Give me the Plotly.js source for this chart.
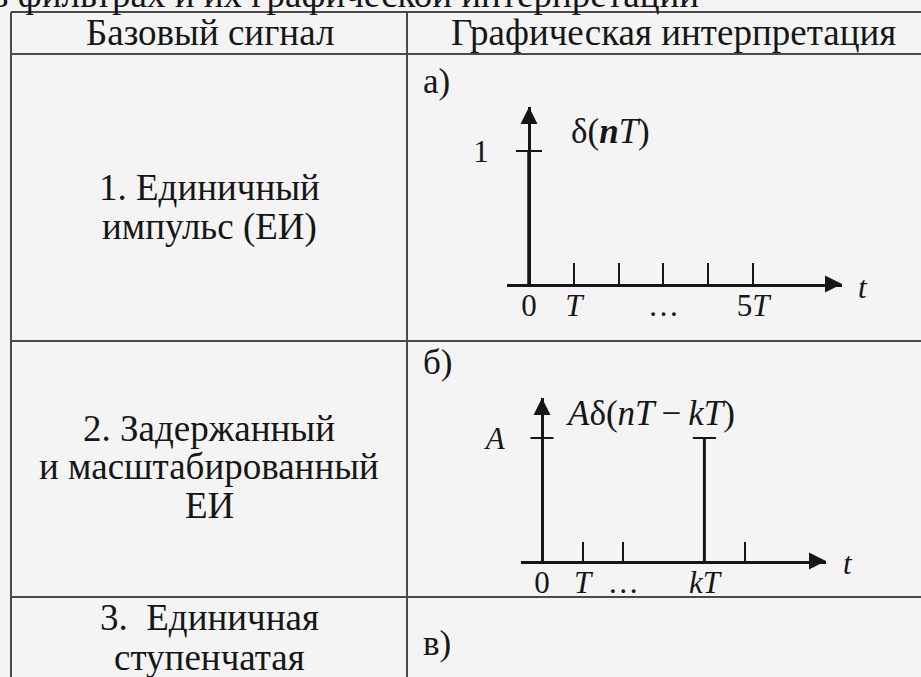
<!DOCTYPE html>
<html><head><meta charset="utf-8">
<script src="https://cdn.plot.ly/plotly-3.0.1.min.js"></script>
<style>
html,body{margin:0;padding:0;background:#f4f4f4;}
#chart{width:921px;height:677px;}
#chart svg text, #chart svg tspan{font-family:'Liberation Serif', serif !important;}
</style>
</head><body><div id="chart"></div>
<script>
// ---------- data ----------
const captionText = 'в фильтрах и их графической интерпретации';
const headerLabels = ['Базовый сигнал', 'Графическая интерпретация'];
const rowLabelLines = [
  ['1. Единичный', 'импульс (ЕИ)'],
  ['2. Задержанный', 'и масштабированный', 'ЕИ'],
  ['3.  Единичная', 'ступенчатая']
];
const panelLetters = ['а)', 'б)', 'в)'];

// panel а: unit impulse δ(nT)
const aSamples = [0, 1, 2, 3, 4, 5];
const aValues = [1, 0, 0, 0, 0, 0];
const aTickText = ['0', '<i>T</i>', '', '…', '', '5<i>T</i>'];
const aYTickVals = [1];
const aYTickText = ['1'];
const aFuncLabel = 'δ(<b><i>n</i></b><i>T</i>)';

// panel б: delayed and scaled impulse Aδ(nT − kT), k = 4
const bSamples = [0, 1, 2, 4, 5];
const bValues = [0, 0, 0, 1, 0];
const bTickText = ['0', '<i>T</i>', '…', '<i>kT</i>', ''];
const bYTickVals = [1];
const bYTickText = ['<i>A</i>'];
const bFuncLabel = '<i>A</i>δ(<i>nT</i>\u2009−\u2009<i>kT</i>)';
const axisVarLabel = '<i>t</i>';

// ---------- geometry / style ----------
const W = 921, H = 677;
const px = x => x / W;
const py = y => 1 - y / H;
const FONT = 'Liberation Serif';
const INK = '#161616';
const GRID = '#4a4a4a';
const TXT = 37, TICK = 31, FUNC = 35;

const panels = [
  {xa: 'x', ya: 'y', samples: aSamples, values: aValues, tickText: aTickText,
   yTickVals: aYTickVals, yTickText: aYTickText, func: aFuncLabel,
   zeroX: 529, step: 44.8, startX: 507, tipX: 842, zeroY: 284, unit: 133, tipY: 107,
   ticklen: 21, capHalf: 13, stemW: 3.5, funcPos: [610, 131], tPos: [863, 287], letterPos: [436, 81], labStand: 33},
  {xa: 'x2', ya: 'y2', samples: bSamples, values: bValues, tickText: bTickText,
   yTickVals: bYTickVals, yTickText: bYTickText, func: bFuncLabel,
   zeroX: 542, step: 40.6, startX: 521, tipX: 826, zeroY: 561, unit: 123, tipY: 398,
   ticklen: 19, capHalf: 11.5, stemW: 3, funcPos: [650, 413], tPos: [848, 563], letterPos: [437, 362], labStand: 30}
];

const traces = [];
const layout = {
  width: W, height: H,
  margin: {l: 0, r: 0, t: 0, b: 0},
  paper_bgcolor: '#f4f4f4', plot_bgcolor: 'rgba(0,0,0,0)',
  showlegend: false,
  shapes: [], annotations: []
};

panels.forEach((p, i) => {
  const sfx = i === 0 ? '' : String(i + 1);
  const xr = [(p.startX - p.zeroX) / p.step, (p.tipX - p.zeroX) / p.step];
  const yr = [0, (p.zeroY - p.tipY) / p.unit];
  layout['xaxis' + sfx] = {
    domain: [px(p.startX), px(p.tipX)], range: xr, anchor: p.ya,
    showline: true, linewidth: 2.5, linecolor: INK,
    showgrid: false, zeroline: false,
    ticks: 'inside', ticklen: p.ticklen, tickwidth: 2, tickcolor: INK,
    tickmode: 'array', tickvals: p.samples, ticktext: p.tickText,
    ticklabelstandoff: -8,
    tickfont: {family: FONT, size: TICK, color: INK}, fixedrange: true
  };
  layout['yaxis' + sfx] = {
    domain: [py(p.zeroY), py(p.tipY)], range: yr, anchor: 'free', position: px(p.zeroX),
    showline: true, linewidth: 2.5, linecolor: INK,
    showgrid: false, zeroline: false, ticks: '',
    tickmode: 'array', tickvals: p.yTickVals, ticktext: p.yTickText,
    ticklabelstandoff: p.labStand,
    tickfont: {family: FONT, size: TICK, color: INK}, fixedrange: true
  };
  // impulses (non-zero samples): stem without caps ...
  const nz = p.samples.map((n, k) => [n, p.values[k]]).filter(d => d[1] !== 0);
  traces.push({
    type: 'scatter', mode: 'markers', xaxis: p.xa, yaxis: p.ya, cliponaxis: false,
    x: nz.map(d => d[0]), y: nz.map(d => d[1]),
    marker: {size: 1, color: 'rgba(0,0,0,0)'},
    error_y: {type: 'data', symmetric: false, array: nz.map(() => 0), arrayminus: nz.map(d => d[1]),
      width: 0, thickness: p.stemW, color: INK},
    hoverinfo: 'skip'
  });
  // ... and a cap on top of each impulse
  traces.push({
    type: 'scatter', mode: 'markers', xaxis: p.xa, yaxis: p.ya, cliponaxis: false,
    x: nz.map(d => d[0]), y: nz.map(d => d[1]),
    marker: {size: 1, color: 'rgba(0,0,0,0)'},
    error_y: {type: 'data', array: nz.map(() => 0), width: p.capHalf, thickness: 2.2, color: INK},
    hoverinfo: 'skip'
  });
  // level tick on the vertical axis
  traces.push({
    type: 'scatter', mode: 'markers', xaxis: p.xa, yaxis: p.ya, cliponaxis: false,
    x: p.yTickVals.map(() => 0), y: p.yTickVals,
    marker: {size: 1, color: 'rgba(0,0,0,0)'},
    error_y: {type: 'data', array: p.yTickVals.map(() => 0), width: p.capHalf, thickness: 2.2, color: INK},
    hoverinfo: 'skip'
  });
  // arrow heads at the ends of both axes
  traces.push({
    type: 'scatter', mode: 'markers', xaxis: p.xa, yaxis: p.ya, cliponaxis: false,
    x: [xr[1], 0], y: [0, yr[1]],
    marker: {symbol: ['arrow-right', 'arrow-up'], size: 17, color: INK, line: {width: 0}},
    hoverinfo: 'skip'
  });
  layout.annotations.push(
    {xref: 'paper', yref: 'paper', x: px(p.funcPos[0]), y: py(p.funcPos[1]), text: p.func,
     showarrow: false, font: {family: FONT, size: FUNC, color: INK}, xanchor: 'center', yanchor: 'middle'},
    {xref: 'paper', yref: 'paper', x: px(p.tPos[0]), y: py(p.tPos[1]), text: axisVarLabel,
     showarrow: false, font: {family: FONT, size: 31, color: INK}, xanchor: 'center', yanchor: 'middle'},
    {xref: 'paper', yref: 'paper', x: px(p.letterPos[0]), y: py(p.letterPos[1]), text: panelLetters[i],
     showarrow: false, font: {family: FONT, size: FUNC, color: INK}, xanchor: 'center', yanchor: 'middle'}
  );
});
layout.annotations.push({xref: 'paper', yref: 'paper', x: px(437), y: py(643), text: panelLetters[2],
  showarrow: false, font: {family: FONT, size: FUNC, color: INK}, xanchor: 'center', yanchor: 'middle'});

// ---------- table ----------
const tbl = {left: 11, mid: 407, right: 921, top: 12, rows: [54, 341, 597], bottom: 677};
const hline = (y) => ({type: 'line', xref: 'paper', yref: 'paper', x0: px(tbl.left), x1: px(tbl.right), y0: py(y), y1: py(y), line: {color: GRID, width: 2}});
const vline = (x) => ({type: 'line', xref: 'paper', yref: 'paper', x0: px(x), x1: px(x), y0: py(tbl.top), y1: py(tbl.bottom), line: {color: GRID, width: 2}});
layout.shapes.push(hline(tbl.top), ...tbl.rows.map(hline), vline(tbl.left), vline(tbl.mid));

const textAnn = (x, y, t, size) => ({xref: 'paper', yref: 'paper', x: px(x), y: py(y), text: t,
  showarrow: false, font: {family: FONT, size: size, color: INK}, xanchor: 'center', yanchor: 'middle'});
layout.annotations.push(textAnn(210, 33, headerLabels[0], TXT), textAnn(673, 33, headerLabels[1], TXT));
const rowLineY = [[187, 227], [428, 466, 505], [617, 657]];
rowLabelLines.forEach((lines, r) => lines.forEach((t, k) =>
  layout.annotations.push(textAnn(209, rowLineY[r][k], t, TXT))));
// caption cut by the top edge
layout.annotations.push({xref: 'paper', yref: 'paper', x: px(701), y: py(-5), text: captionText,
  showarrow: false, font: {family: FONT, size: TXT, color: INK}, xanchor: 'right', yanchor: 'middle'});

Plotly.newPlot('chart', traces, layout, {displayModeBar: false, staticPlot: true});
</script>
</body></html>
